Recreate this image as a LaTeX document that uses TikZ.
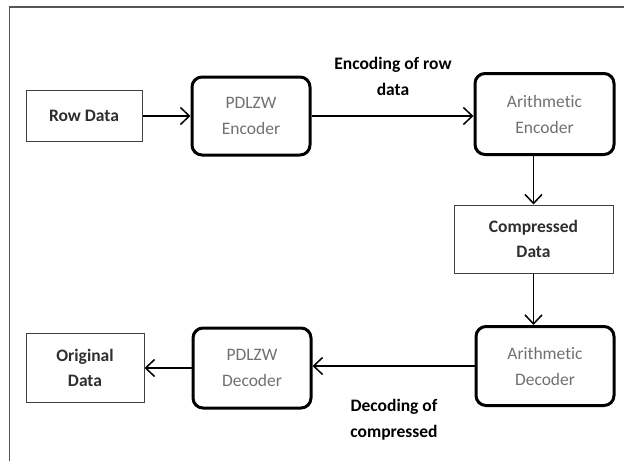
\documentclass[tikz,border=0pt]{standalone}
\usepackage{fontspec}
\setmainfont{Carlito}[Ligatures=NoCommon]
\usetikzlibrary{arrows.meta}

\definecolor{boxtext}{HTML}{2E2E2E}
\definecolor{softtext}{HTML}{707070}
\definecolor{framegray}{HTML}{555555}

\tikzset{
  databox/.style={draw=black!75, line width=1pt, minimum width=#1, align=center,
    font=\fontsize{17.5}{25}\selectfont\bfseries, text=boxtext},
  codebox/.style={draw=black, line width=3pt, rounded corners=10pt, minimum width=#1,
    align=center, font=\fontsize{17.5}{26}\selectfont, text=softtext},
  flow/.style={line width=1.5pt, -{Straight Barb[length=9pt,width=17pt,line width=1.5pt]}},
  steplabel/.style={align=center, font=\fontsize{17.5}{26}\selectfont\bfseries}
}

\begin{document}
\begin{tikzpicture}[x=1pt,y=-1pt]
        \useasboundingbox (0,0) rectangle (624,461);
        \draw[framegray, line width=1.5pt] (9.5,461) -- (9.5,7) -- (624,7);

        % top row
        \node[databox=116pt, minimum height=51pt] (row) at (84,116) {Row Data};
        \node[codebox=118pt, minimum height=78pt] (pdlzwenc) at (251,116) {PDLZW\\Encoder};
        \node[codebox=139pt, minimum height=81pt] (arienc) at (544.5,114) {Arithmetic\\Encoder};

        % middle
        \node[databox=159pt, minimum height=68pt] (comp) at (533.5,239) {Compressed\\Data};

        % bottom row
        \node[codebox=138pt, minimum height=79pt] (aridec) at (545,366) {Arithmetic\\Decoder};
        \node[codebox=118pt, minimum height=80pt] (pdlzwdec) at (252,368) {PDLZW\\Decoder};
        \node[databox=118pt, minimum height=69pt] (orig) at (85,368) {Original\\Data};

        % Etiquetas
        \node[steplabel] (enclabel) at (393,76) {Encoding of row\\data};
        \node[steplabel] (declabel) at (394,420) {Decoding of\\compressed};

        \draw[flow] (row.east) -- (pdlzwenc.west);
        \draw[flow] (pdlzwenc.east) -- (pdlzwenc.east -| arienc.west);
        \draw[flow] (arienc.south -| comp.north) -- (comp.north);
        \draw[flow] (comp.south) -- (comp.south |- aridec.north);
        \draw[flow] (aridec.west) -- (aridec.west -| pdlzwdec.east);
        \draw[flow] (pdlzwdec.west) -- (orig.east);
    \end{tikzpicture}
\end{document}
